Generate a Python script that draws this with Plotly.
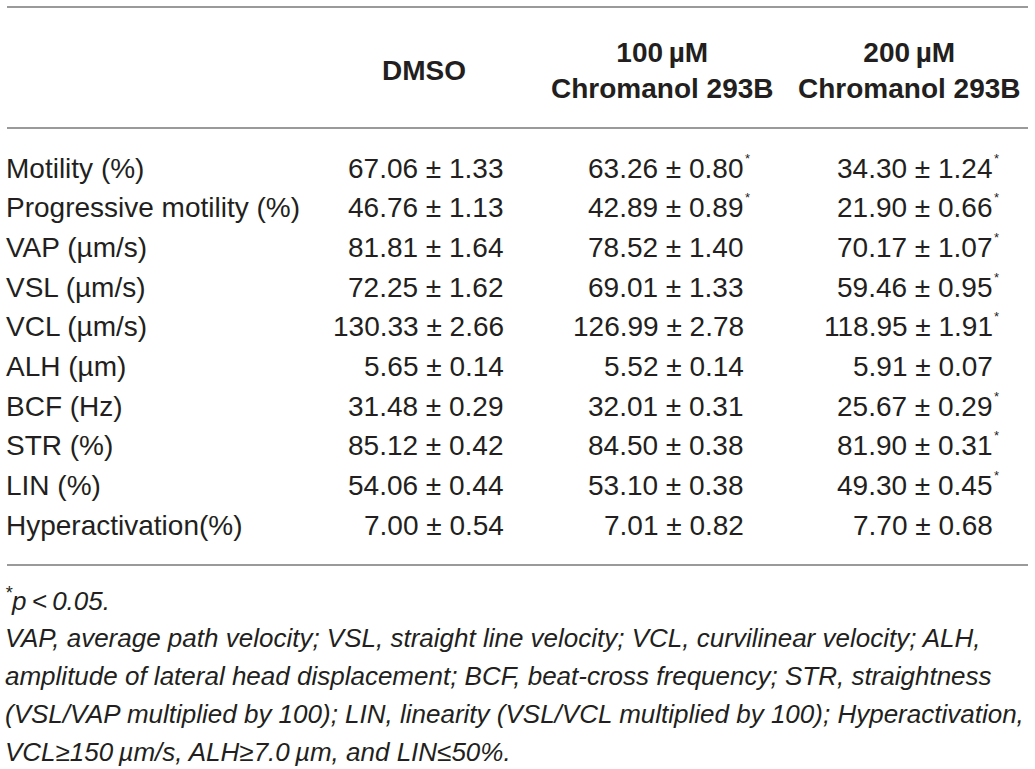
import plotly.graph_objects as go

# table content
params = ["Motility (%)", "Progressive motility (%)", "VAP (\u00b5m/s)", "VSL (\u00b5m/s)",
          "VCL (\u00b5m/s)", "ALH (\u00b5m)", "BCF (Hz)", "STR (%)", "LIN (%)",
          "Hyperactivation(%)"]
groups = ["DMSO", "100\u2009\u00b5M<br>Chromanol 293B", "200\u2009\u00b5M<br>Chromanol 293B"]

dmso_mean = [67.06, 46.76, 81.81, 72.25, 130.33, 5.65, 31.48, 85.12, 54.06, 7.00]
dmso_sem = [1.33, 1.13, 1.64, 1.62, 2.66, 0.14, 0.29, 0.42, 0.44, 0.54]
c100_mean = [63.26, 42.89, 78.52, 69.01, 126.99, 5.52, 32.01, 84.50, 53.10, 7.01]
c100_sem = [0.80, 0.89, 1.40, 1.33, 2.78, 0.14, 0.31, 0.38, 0.38, 0.82]
c200_mean = [34.30, 21.90, 70.17, 59.46, 118.95, 5.91, 25.67, 81.90, 49.30, 7.70]
c200_sem = [1.24, 0.66, 1.07, 0.95, 1.91, 0.07, 0.29, 0.31, 0.45, 0.68]

dmso_sig = [False] * 10
c100_sig = [True, True, False, False, False, False, False, False, False, False]
c200_sig = [True, True, True, True, True, False, True, True, True, False]

footnotes = [
    "<sup>*</sup>p\u2009<\u20090.05.",
    "VAP, average path velocity; VSL, straight line velocity; VCL, curvilinear velocity; ALH,",
    "amplitude of lateral head displacement; BCF, beat-cross frequency; STR, straightness",
    "(VSL/VAP multiplied by 100); LIN, linearity (VSL/VCL multiplied by 100); Hyperactivation,",
    "VCL\u2265150\u2009\u00b5m/s, ALH\u22657.0\u2009\u00b5m, and LIN\u226450%.",
]

INK = "#231f20"
RULE = "#9a9a9a"
FONT = "Liberation Sans"

col_right = [506, 746, 995]
col_center = [424, 662, 909]
row_y0, row_step = 168, 39.7

fig = go.Figure()
ann = []

# header
for g, xc in zip(groups, col_center):
    ann.append(dict(x=xc, y=70, text="<b>" + g + "</b>", xanchor="center", yanchor="middle",
                    font=dict(size=28, color=INK), showarrow=False))

# body
cols = [(dmso_mean, dmso_sem, dmso_sig), (c100_mean, c100_sem, c100_sig),
        (c200_mean, c200_sem, c200_sig)]
for i, p in enumerate(params):
    y = row_y0 + i * row_step
    ann.append(dict(x=4, y=y, text=p, xanchor="left", yanchor="middle",
                    font=dict(size=28, color=INK), showarrow=False))
    for (m, s, sig), xr in zip(cols, col_right):
        ann.append(dict(x=xr, y=y, text=f"{m[i]:.2f} \u00b1 {s[i]:.2f}", xanchor="right",
                        yanchor="middle", font=dict(size=28, color=INK), showarrow=False))
        if sig[i]:
            ann.append(dict(x=xr - 3, y=y - 10, text="*", xanchor="left", yanchor="middle",
                            font=dict(size=13, color=INK), showarrow=False))

# footnotes
foot_y = [599, 638, 676, 714, 752]
for t, y in zip(footnotes, foot_y):
    ann.append(dict(x=3, y=y, text=t, xanchor="left", yanchor="middle",
                    font=dict(size=26, color=INK, style="italic"), showarrow=False))

for y in [7, 128, 565]:
    fig.add_shape(type="line", x0=7, x1=1028, y0=y, y1=y, xref="x", yref="y",
                  line=dict(color=RULE, width=2))

fig.update_xaxes(range=[0, 1035], visible=False, fixedrange=True)
fig.update_yaxes(range=[769, 0], visible=False, fixedrange=True)
fig.update_layout(
    width=1035,
    height=769,
    margin=dict(l=0, r=0, t=0, b=0),
    paper_bgcolor="white",
    plot_bgcolor="white",
    font=dict(family=FONT, color=INK),
    annotations=ann,
    showlegend=False
)

fig.write_html("out.html", config={"displayModeBar": False},
               post_script="document.body.style.margin='0';")
